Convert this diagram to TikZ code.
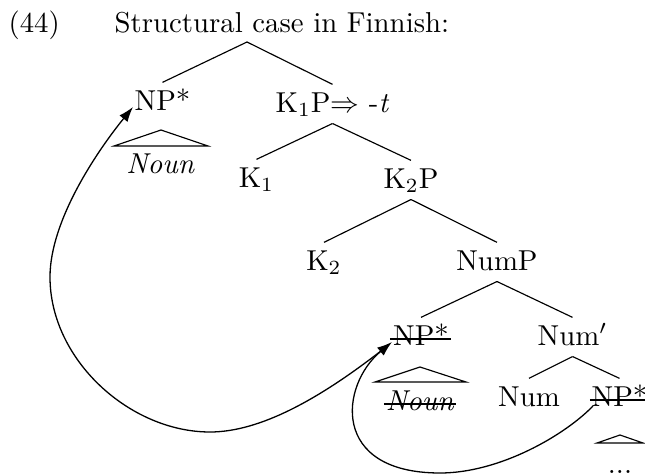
\documentclass[tikz,border=0pt]{standalone}
\usetikzlibrary{arrows.meta}
\begin{document}
\begin{tikzpicture}[x=0.3472pt,y=-0.3472pt,
  lbl/.style={anchor=base,inner sep=0pt,text height=9.4pt,text depth=3.8pt},
  plain/.style={anchor=base,inner sep=0pt},
  edge/.style={line width=0.4pt},
  mv/.style={line width=0.45pt,-{Latex[length=5.2pt,width=3.6pt]}},
  strike/.style={line width=0.8pt}]
\useasboundingbox (0,0) rectangle (645,476);
% caption
\node[plain,anchor=base west] (ex) at (8,32) {(44)};
\node[plain,anchor=base west] (title) at (114,32) {Structural case in Finnish:};
% tree
\coordinate (root) at (247,42);
\node[lbl] (NPt) at (162.5,110) {NP*};
\node[lbl] (K1P) at (332.5,112) {K$_1$P$\Rightarrow$ -\textit{t}};
\node[lbl] (K1) at (256.5,187) {K$_1$};
\node[lbl] (K2P) at (411,188) {K$_2$P};
\node[lbl] (K2) at (324,270) {K$_2$};
\node[lbl] (NumP) at (497,270) {NumP};
\node[lbl] (NPm) at (421,345) {NP*};
\node[lbl] (Numb) at (572.5,345) {Num$'$};
\node[lbl] (Num) at (529,406) {Num};
\node[lbl] (NPr) at (619.5,406) {NP*};
\node[plain] (noun1) at (160.5,173) {\textit{Noun}};
\node[plain] (noun2) at (420,410) {\textit{Noun}};
\node[plain] (dots) at (620,473) {...};
% branches
\draw[edge] (root) -- (NPt.north);
\draw[edge] (root) -- (K1P.north);
\draw[edge] (K1P.south) -- (K1.north);
\draw[edge] (K1P.south) -- (K2P.north);
\draw[edge] (K2P.south) -- (K2.north);
\draw[edge] (K2P.south) -- (NumP.north);
\draw[edge] (NumP.south) -- (NPm.north);
\draw[edge] (NumP.south) -- (Numb.north);
\draw[edge] (Numb.south) -- (Num.north);
\draw[edge] (Numb.south) -- (NPr.north);
% triangles
\draw[edge] (161,130) -- (208,146) -- (114,146) -- cycle;
\draw[edge] (420,367) -- (466,382) -- (375,382) -- cycle;
\draw[edge] (620,435) -- (643,443) -- (597,443) -- cycle;
% strike-outs
\draw[strike] (390,339) -- (451,339);
\draw[strike] (384,404) -- (456,404);
\draw[strike] (590,400) -- (648,400);
% movement arrows
\coordinate (srcR) at (593,406);
\coordinate (tipM) at (392,342);
\coordinate (srcM) at (386,347);
\coordinate (tipT) at (133,107);
\draw[mv] (srcR) .. controls (565,435) and (500,473) .. (440,473)
  .. controls (330,473) and (340,385) .. (tipM);
\draw[mv] (srcM) .. controls (320,399) and (260,432) .. (210,432)
  .. controls (130,432) and (50,360) .. (50,277)
  .. controls (50,220) and (98,150) .. (tipT);
\end{tikzpicture}
\end{document}
